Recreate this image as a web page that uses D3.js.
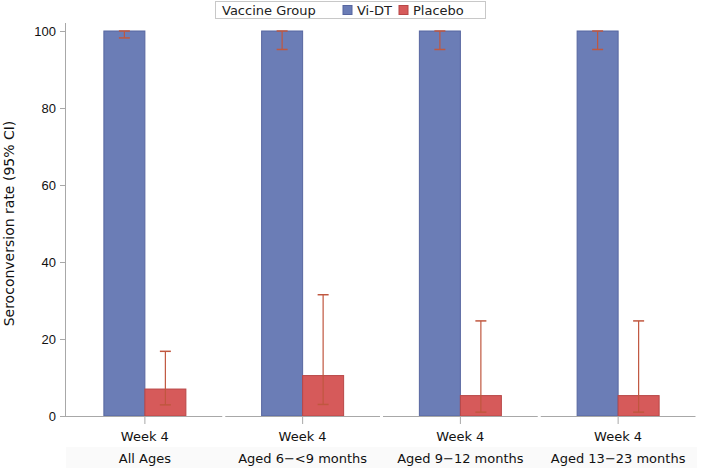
<!DOCTYPE html>
<html><head><meta charset="utf-8">
<script src="https://cdn.jsdelivr.net/npm/d3@7/dist/d3.min.js"></script>
<style>body{margin:0;background:#fff;} svg{display:block;font-family:"DejaVu Sans",sans-serif;}</style>
</head><body>
<svg id="c" width="703" height="468"></svg>
<script>
const categories = ["All Ages", "Aged 6\u2212<9 months", "Aged 9\u221212 months", "Aged 13\u221223 months"];
const timepoint = "Week 4";
const groups = ["Vi-DT", "Placebo"];
const viValue = [100, 100, 100, 100];
const viLower = [98.2, 95.2, 95.2, 95.2];
const viUpper = [100, 100, 100, 100];
const plValue = [7.0, 10.5, 5.3, 5.3];
const plLower = [2.9, 3.0, 1.0, 1.0];
const plUpper = [16.8, 31.5, 24.7, 24.7];
const yTicks = [0, 20, 40, 60, 80, 100];

const colors = {"Vi-DT": "#6b7db6", "Placebo": "#d65a5a"};
const strokes = {"Vi-DT": "#5766a0", "Placebo": "#b84747"};

const svg = d3.select("#c");
const m = {left: 66, right: 6, top: 31, bottom: 52};
const W = 703, H = 468;
const x = d3.scaleBand().domain(categories).range([m.left, W - m.right]).paddingInner(0).paddingOuter(0);
const y = d3.scaleLinear().domain([0, 100]).range([416, 31]);
const barW = 41;
const FS = 13;

// bottom label band
svg.append("rect").attr("x", m.left).attr("y", 447).attr("width", W - m.right - m.left).attr("height", 21).attr("fill", "#fafafa");

const data = [];
categories.forEach((c, i) => {
  data.push({cat: c, g: "Vi-DT", v: viValue[i], lo: viLower[i], hi: viUpper[i]});
  data.push({cat: c, g: "Placebo", v: plValue[i], lo: plLower[i], hi: plUpper[i]});
});
const xo = g => g === "Vi-DT" ? -barW : 0;
const center = c => x(c) + x.bandwidth() / 2;

svg.selectAll("rect.bar").data(data).join("rect").attr("class", "bar")
  .attr("x", d => center(d.cat) + xo(d.g))
  .attr("y", d => y(d.v))
  .attr("width", barW)
  .attr("height", d => y(0) - y(d.v))
  .attr("fill", d => colors[d.g])
  .attr("stroke", d => strokes[d.g]).attr("stroke-width", 1);

// error bars
const eb = svg.append("g").attr("stroke", "#c0573f").attr("fill", "none");
data.forEach(d => {
  const cx = center(d.cat) + xo(d.g) + barW / 2;
  eb.append("line").attr("x1", cx).attr("x2", cx).attr("y1", y(d.lo)).attr("y2", y(d.hi)).attr("stroke-width", 1.2);
  [d.lo, d.hi].forEach(v => eb.append("line").attr("x1", cx - 5.5).attr("x2", cx + 5.5).attr("y1", y(v)).attr("y2", y(v)).attr("stroke-width", 1.5));
});

// y axis
const ya = svg.append("g").attr("transform", `translate(${m.left},0)`)
  .call(d3.axisLeft(y).tickValues(yTicks).tickSize(6).tickPadding(4));
ya.select(".domain").attr("stroke", "#a8a8a8").attr("d", `M-0.5,${y(100)-8}V${y(0)}`);
ya.selectAll(".tick line").attr("stroke", "#a8a8a8");
ya.selectAll(".tick text").attr("font-size", FS).attr("fill", "#111");

// x axis line segments (with small gaps at boundaries)
const xa = svg.append("g");
categories.forEach((c, i) => {
  xa.append("line").attr("x1", x(c) + (i === 0 ? 0 : 1.5)).attr("x2", x(c) + x.bandwidth() - 1.5)
    .attr("y1", 416.5).attr("y2", 416.5).attr("stroke", "#a8a8a8");
  xa.append("line").attr("x1", center(c)).attr("x2", center(c)).attr("y1", 416).attr("y2", 424).attr("stroke", "#a8a8a8");
  xa.append("text").attr("x", center(c)).attr("y", 441).attr("text-anchor", "middle").attr("font-size", FS).attr("fill", "#111").text(timepoint);
  xa.append("text").attr("x", center(c)).attr("y", 463).attr("text-anchor", "middle").attr("font-size", FS).attr("fill", "#111").text(c);
});

// y title
svg.append("text").attr("transform", `translate(14,${(y(0)+y(100))/2}) rotate(-90)`).attr("text-anchor", "middle")
  .attr("font-size", 14).attr("fill", "#111").text("Seroconversion rate (95% CI)");

// legend
const lg = svg.append("g");
lg.append("rect").attr("x", 215.5).attr("y", 1.5).attr("width", 270).attr("height", 17).attr("fill", "#fff").attr("stroke", "#c8c8c8");
lg.append("text").attr("x", 222).attr("y", 15).attr("font-size", FS).attr("fill", "#222").text("Vaccine Group");
let lx = 343;
groups.forEach((g, i) => {
  lg.append("rect").attr("x", lx).attr("y", 5.5).attr("width", 9).attr("height", 9).attr("fill", colors[g]).attr("stroke", strokes[g]);
  lg.append("text").attr("x", lx + 14).attr("y", 15).attr("font-size", FS).attr("fill", "#222").text(g);
  lx += 56;
});
</script>
</body></html>
